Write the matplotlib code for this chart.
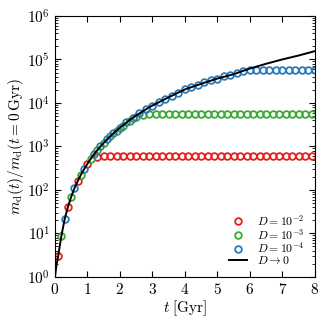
import numpy as np
import matplotlib
matplotlib.use("Agg")
import matplotlib.pyplot as plt
from matplotlib.ticker import LogLocator, MultipleLocator, NullFormatter

plt.rcParams['font.family'] = 'serif'
plt.rcParams['font.serif'] = ['cmr10', 'DejaVu Serif']
plt.rcParams['mathtext.fontset'] = 'cm'
plt.rcParams['axes.unicode_minus'] = False
plt.rcParams['axes.formatter.use_mathtext'] = True

# D -> 0 curve, log10 of the mass ratio
t_curve = [0, 0.05, 0.1, 0.15, 0.2, 0.3, 0.4, 0.5, 0.6, 0.7, 0.8, 0.9, 1.0,
           1.2, 1.4, 1.6, 1.8, 2.0, 2.25, 2.5, 2.75, 3.0, 3.5, 4.0, 4.5,
           5.0, 5.5, 6.0, 6.5, 7.0, 7.5, 8.0]
logm_curve = [0, 0.28, 0.48, 0.72, 0.95, 1.33, 1.61, 1.84, 2.04, 2.20, 2.35,
              2.48, 2.60, 2.82, 3.00, 3.16, 3.30, 3.43, 3.58, 3.71, 3.83, 3.94,
              4.13, 4.31, 4.44, 4.56, 4.66, 4.79, 4.90, 5.00, 5.09, 5.19]

# D = 1e-2 markers
t_d2 = [0.1, 0.4, 0.7, 1.0, 1.3, 1.5, 1.7, 1.9, 2.1, 2.3, 2.5, 2.7, 2.9, 3.1,
        3.3, 3.5, 3.7, 3.9, 4.1, 4.3, 4.5, 4.7, 4.9, 5.1, 5.3, 5.5, 5.7, 5.9,
        6.1, 6.3, 6.5, 6.7, 6.9, 7.1, 7.3, 7.5, 7.7, 7.9]
logm_d2 = [0.48, 1.61, 2.20, 2.60, 2.76, 2.77, 2.77, 2.77, 2.77, 2.77, 2.77,
           2.77, 2.77, 2.77, 2.77, 2.77, 2.77, 2.77, 2.77, 2.77, 2.77, 2.77,
           2.77, 2.77, 2.77, 2.77, 2.77, 2.77, 2.77, 2.77, 2.77, 2.77, 2.77,
           2.77, 2.77, 2.77, 2.77, 2.77]

# D = 1e-3 markers
t_d3 = [0.2, 0.5, 0.8, 1.1, 1.3, 1.5, 1.7, 1.9, 2.1, 2.3, 2.5, 2.7, 2.9, 3.1,
        3.3, 3.5, 3.7, 3.9, 4.1, 4.3, 4.5, 4.7, 4.9, 5.1, 5.3, 5.5, 5.7, 5.9,
        6.1, 6.3, 6.5, 6.7, 6.9, 7.1, 7.3, 7.5, 7.7, 7.9]
logm_d3 = [0.95, 1.84, 2.35, 2.71, 2.91, 3.08, 3.23, 3.36, 3.48, 3.59, 3.68,
           3.73, 3.75, 3.755, 3.755, 3.755, 3.755, 3.755, 3.755, 3.755, 3.755,
           3.755, 3.755, 3.755, 3.755, 3.755, 3.755, 3.755, 3.755, 3.755,
           3.755, 3.755, 3.755, 3.755, 3.755, 3.755, 3.755, 3.755]

# D = 1e-4 markers
t_d4 = [0.3, 0.6, 0.9, 1.2, 1.4, 1.6, 1.8, 2.0, 2.2, 2.4, 2.6, 2.8, 3.0, 3.2,
        3.4, 3.6, 3.8, 4.0, 4.2, 4.4, 4.6, 4.8, 5.0, 5.2, 5.4, 5.6, 5.8, 6.0,
        6.2, 6.4, 6.6, 6.8, 7.0, 7.2, 7.4, 7.6, 7.8, 8.0]
logm_d4 = [1.33, 2.04, 2.48, 2.82, 3.00, 3.16, 3.30, 3.43, 3.55, 3.66, 3.76,
           3.85, 3.94, 4.02, 4.09, 4.16, 4.23, 4.31, 4.36, 4.41, 4.47, 4.52,
           4.56, 4.61, 4.65, 4.69, 4.73, 4.75, 4.76, 4.76, 4.76, 4.76, 4.76,
           4.76, 4.76, 4.76, 4.76, 4.76]

labels = [r'$D=10^{-2}$', r'$D=10^{-3}$', r'$D=10^{-4}$', r'$D\rightarrow 0$']
colors = ['#e3201b', '#3aa935', '#2a7ab9']

fig = plt.figure(figsize=(3.29, 3.25), dpi=100)
ax = fig.add_axes([0.167, 0.148, 0.79, 0.803])

for tt, lm, c, lab in zip([t_d2, t_d3, t_d4], [logm_d2, logm_d3, logm_d4],
                          colors, labels[:3]):
    ax.plot(tt, 10**np.array(lm), 'o', ms=4.8, mfc='none', mec=c, mew=1.3,
            label=lab)

ax.plot(t_curve, 10**np.array(logm_curve), color='black', lw=1.4,
        label=labels[3])

ax.set_yscale('log')
ax.set_xlim(0, 8)
ax.set_ylim(1, 1e6)
ax.xaxis.set_major_locator(MultipleLocator(1))
ax.yaxis.set_major_locator(LogLocator(base=10, numticks=10))
ax.yaxis.set_minor_locator(LogLocator(base=10, subs=np.arange(2, 10), numticks=10))
ax.yaxis.set_minor_formatter(NullFormatter())
ax.tick_params(which='both', direction='in', top=True, right=True,
               labelsize=11)
ax.tick_params(which='major', length=4, width=0.8)
ax.tick_params(which='minor', length=2, width=0.6)

ax.set_xlabel(r'$t\;[\mathrm{Gyr}]$', fontsize=11, labelpad=1)
ax.set_ylabel(r'$m_\mathrm{d}(t)/m_\mathrm{d}(t=0\,\mathrm{Gyr})$', fontsize=11,
              labelpad=1)

ax.legend(loc='lower right', frameon=False, fontsize=8.5, handlelength=1.5,
          labelspacing=-0.1, handletextpad=0.8, borderaxespad=0.5,
          borderpad=0.4)

plt.savefig('out.png', dpi=100)
